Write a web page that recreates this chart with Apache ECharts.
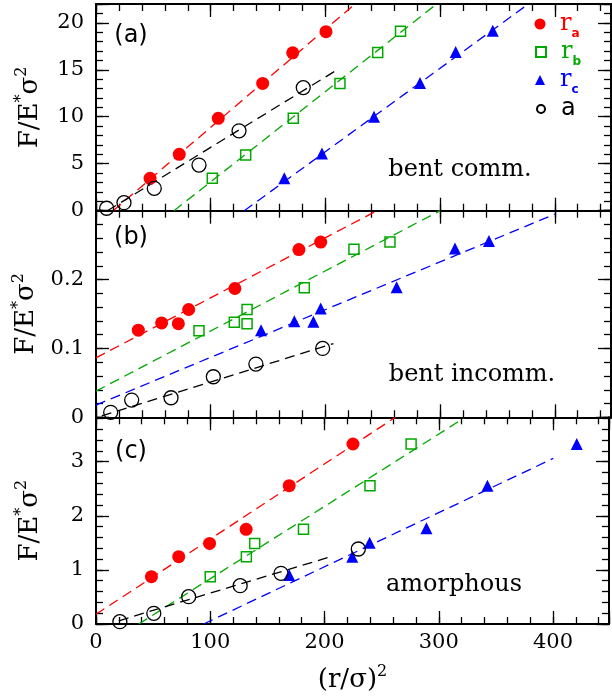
<!DOCTYPE html>
<html><head><meta charset="utf-8">
<script src="https://cdn.jsdelivr.net/npm/echarts@6/dist/echarts.min.js"></script>
<style>html,body{margin:0;padding:0;background:#fff}#c{width:612px;height:698px}</style>
</head><body><div id="c"></div>
<script>
// ---------- DATA ----------
const xTickValues = [0, 100, 200, 300, 400];
const xTickLabels = ['0', '100', '200', '300', '400'];
const yTickValuesA = [0, 5, 10, 15, 20];
const yTickLabelsA = ['0', '5', '10', '15', '20'];
const yTickValuesB = [0, 0.1, 0.2];
const yTickLabelsB = ['0', '0.1', '0.2'];
const yTickValuesC = [0, 1, 2, 3];
const yTickLabelsC = ['0', '1', '2', '3'];

// panel (a) bent comm.
const a_ra = [[47.1,3.45],[72.6,6.0],[106.6,9.83],[145.3,13.55],[171.5,16.8],[200.5,19.05]];
const a_rb = [[101.4,3.45],[130.5,5.93],[172.0,9.83],[212.7,13.55],[245.6,16.85],[265.5,19.1]];
const a_rc = [[164.2,3.45],[197.0,6.1],[242.4,10.0],[282.5,13.6],[313.6,16.9],[345.9,19.15]];
const a_a  = [[9.3,0.26],[24.4,0.85],[50.8,2.38],[89.8,4.86],[124.7,8.5],[180.7,13.1]];
const a_fit_ra = [[15,0],[225.8,22]];
const a_fit_rb = [[68,0],[297,22]];
const a_fit_rc = [[129.3,0],[377,22]];
const a_fit_a  = [[10,0],[208.4,14.86]];

// panel (b) bent incomm.
const b_ra = [[36.9,0.1265],[57.2,0.137],[71.8,0.136],[80.8,0.1565],[121.1,0.187],[176.9,0.2435],[195.9,0.2545]];
const b_rb = [[89.8,0.1255],[120.6,0.138],[131.7,0.1565],[131.7,0.136],[181.6,0.188],[224.9,0.244],[256.3,0.2545]];
const b_rc = [[143.9,0.1265],[172.9,0.1396],[189.5,0.1386],[195.9,0.158],[262.1,0.189],[313.0,0.245],[342.6,0.256]];
const b_a  = [[12.8,0.0072],[31.1,0.025],[65.4,0.0284],[102.3,0.0589],[139.4,0.0773],[197.6,0.1]];
const b_fit_ra = [[0,0.0864],[245,0.3]];
const b_fit_rb = [[0,0.038],[300,0.3]];
const b_fit_rc = [[0,0.0178],[400,0.295]];
const b_fit_a  = [[5,0.002],[207,0.107]];

// panel (c) amorphous
const c_ra = [[48.5,0.874],[72.4,1.244],[99.4,1.49],[131.4,1.75],[169.1,2.556],[224.9,3.327]];
const c_rb = [[100.0,0.874],[131.6,1.244],[138.9,1.49],[181.6,1.75],[239.8,2.557],[275.8,3.327]];
const c_rc = [[169.1,0.905],[224.3,1.244],[239.5,1.503],[289.2,1.768],[342.6,2.557],[420.8,3.327]];
const c_a  = [[20.9,0.043],[50.6,0.197],[81.1,0.505],[126.2,0.709],[161.9,0.937],[229.6,1.386]];
const c_fit_ra = [[0,0.179],[262,3.82]];
const c_fit_rb = [[37.4,0],[321.7,3.8]];
const c_fit_rc = [[94.2,0],[400.2,3.06]];
const c_fit_a  = [[20,0.06],[205.5,1.244]];

const panelLabels = ['(a)', '(b)', '(c)'];
const panelNotes = ['bent comm.', 'bent incomm.', 'amorphous'];
const legendNames = ['ra', 'rb', 'rc', 'a'];

// ---------- STYLE / LAYOUT ----------
const FONT = 'DejaVu Serif';
const X_MAX = 449;
const COLORS = {ra:'#ff0000', rb:'#00a800', rc:'#0000ff', a:'#000000'};
const panels = [
  {ymax:22, yint:5, ymin:1, yv:yTickValuesA, yl:yTickLabelsA, data:{ra:a_ra, rb:a_rb, rc:a_rc, a:a_a}, fits:{ra:a_fit_ra, rb:a_fit_rb, rc:a_fit_rc, a:a_fit_a}},
  {ymax:0.3, yint:0.1, ymin:0.02, yv:yTickValuesB, yl:yTickLabelsB, data:{ra:b_ra, rb:b_rb, rc:b_rc, a:b_a}, fits:{ra:b_fit_ra, rb:b_fit_rb, rc:b_fit_rc, a:b_fit_a}},
  {ymax:3.82, yint:1, ymin:0.2, yv:yTickValuesC, yl:yTickLabelsC, data:{ra:c_ra, rb:c_rb, rc:c_rc, a:c_a}, fits:{ra:c_fit_ra, rb:c_fit_rb, rc:c_fit_rc, a:c_fit_a}}
];
const layout = [
  {top:4, h:206.7, noteX:460, noteY:170, labY:36},
  {top:210.7, h:206.6, noteX:472, noteY:375, labY:238},
  {top:417.3, h:206.7, noteX:454, noteY:585, labY:452}
];
const markerStyle = {
  ra:{symbol:'circle', size:13, itemStyle:{color:COLORS.ra, opacity:1}},
  rb:{symbol:'rect', size:10, itemStyle:{color:'rgba(255,255,255,0)', borderColor:COLORS.rb, borderWidth:1.5, opacity:1}},
  rc:{symbol:'triangle', size:12, itemStyle:{color:COLORS.rc, opacity:1}},
  a:{symbol:'circle', size:14, itemStyle:{color:'rgba(255,255,255,0)', borderColor:COLORS.a, borderWidth:1.3, opacity:1}}
};

const labelFmt = (vals, labs) => (v) => {
  for (let k = 0; k < vals.length; k++) if (Math.abs(v - vals[k]) < 1e-9) return labs[k];
  return '';
};

const grids = [], xAxes = [], yAxes = [], series = [];
const tickStyle = {color:'#000', width:1.3};
panels.forEach((p, i) => {
  const L = layout[i];
  grids.push({left:96, width:515, top:L.top, height:L.h});
  const mk = (dim, pos, major, labels) => {
    const isX = dim === 'x';
    const ax = {
      gridIndex:i, type:'value', position:pos, min:0,
      max: isX ? X_MAX : p.ymax,
      interval: isX ? (major ? 100 : 20) : (major ? p.yint : p.ymin),
      axisLine:{show:major, onZero:false, lineStyle:{color:'#000', width:2}},
      axisTick:{show:true, inside:true, length: major ? 13 : 7, lineStyle:tickStyle},
      splitLine:{show:false},
      axisLabel:{show:labels, color:'#000', fontFamily:FONT, fontSize:21, margin: isX ? 8 : 12,
        showMaxLabel:true,
        formatter: isX ? labelFmt(xTickValues, xTickLabels) : labelFmt(p.yv, p.yl)},
      silent:true
    };
    if (!isX && labels) {
      ax.name = '{m|F/E}{s|*}{m|σ}{s|2}';
      ax.nameLocation = 'middle';
      ax.nameRotate = 90;
      ax.nameGap = 50;
      ax.nameTextStyle = {rich:{
        m:{fontFamily:FONT, fontSize:26, color:'#000', lineHeight:32},
        s:{fontFamily:FONT, fontSize:16, color:'#000', lineHeight:16, verticalAlign:'top'}
      }};
    }
    if (isX && labels) {
      ax.name = '{m|(r/σ)}{s|2}';
      ax.nameLocation = 'middle';
      ax.nameGap = 40;
      ax.nameTextStyle = {rich:{
        m:{fontFamily:FONT, fontSize:26, color:'#000', lineHeight:32},
        s:{fontFamily:FONT, fontSize:16, color:'#000', lineHeight:16, verticalAlign:'top'}
      }};
    }
    return ax;
  };
  xAxes.push(mk('x','bottom',true,i===2), mk('x','bottom',false,false), mk('x','top',true,false), mk('x','top',false,false));
  yAxes.push(mk('y','left',true,true), mk('y','left',false,false), mk('y','right',true,false), mk('y','right',false,false));
  ['ra','rb','rc','a'].forEach(k => {
    series.push({
      type:'line', name:'fit_'+k+'_'+i, xAxisIndex:4*i, yAxisIndex:4*i,
      data:p.fits[k], symbol:'none', showSymbol:false, silent:true, z:1,
      lineStyle:{color:COLORS[k], width:1.3, type:[10,6], opacity:1}
    });
  });
  ['ra','rb','rc','a'].forEach(k => {
    const ms = markerStyle[k];
    series.push({
      type:'scatter', name: i===0 ? k : k+'_'+i, xAxisIndex:4*i, yAxisIndex:4*i,
      data:p.data[k], symbol:ms.symbol, symbolSize:ms.size, itemStyle:ms.itemStyle, z:3, silent:true
    });
  });
});

// legends
const legendRows = [{name:'ra', size:11, y:28, sub:'a'}, {name:'rb', size:10, y:56, sub:'b'}, {name:'rc', size:10, y:84, sub:'c'}, {name:'a', size:8, y:113, sub:''}];
const legends = legendRows.map(r => {
  const col = COLORS[r.name];
  const pad = 560 - (540 + r.size/2 + 5);
  return {
    data:[r.name], left:540 - r.size/2, top:r.y - 16, itemWidth:r.size, itemHeight:r.size,
    padding:0, itemGap:0, selectedMode:false,
    itemStyle:{opacity:1},
    formatter: (n) => n === 'a' ? '{t|a}' : '{r|r}{s|' + r.sub + '}',
    textStyle:{rich:{
      r:{fontFamily:FONT, fontSize:24, color:col, lineHeight:32, padding:[0,0,0,pad]},
      s:{fontFamily:'DejaVu Sans', fontWeight:'bold', fontSize:12, color:col, lineHeight:12, verticalAlign:'bottom'},
      t:{fontFamily:'DejaVu Sans', fontSize:24, color:col, lineHeight:32, padding:[0,0,0,pad]}
    }}
  };
});

const graphics = [];
layout.forEach((L, i) => {
  graphics.push({type:'text', x:L.noteX, y:L.noteY, silent:true,
    style:{text:panelNotes[i], font:'24px "DejaVu Serif"', fill:'#000', align:'center', verticalAlign:'middle', textAlign:'center', textVerticalAlign:'middle'}});
  graphics.push({type:'text', x:131, y:L.labY, silent:true,
    style:{text:panelLabels[i], font:'24px "DejaVu Sans"', fill:'#000', align:'center', verticalAlign:'middle', textAlign:'center', textVerticalAlign:'middle'}});
});

const chart = echarts.init(document.getElementById('c'), null, {renderer:'canvas'});
chart.setOption({
  animation:false,
  backgroundColor:'#fff',
  grid:grids, xAxis:xAxes, yAxis:yAxes, series:series,
  legend:legends, graphic:graphics
});
</script>
</body></html>
